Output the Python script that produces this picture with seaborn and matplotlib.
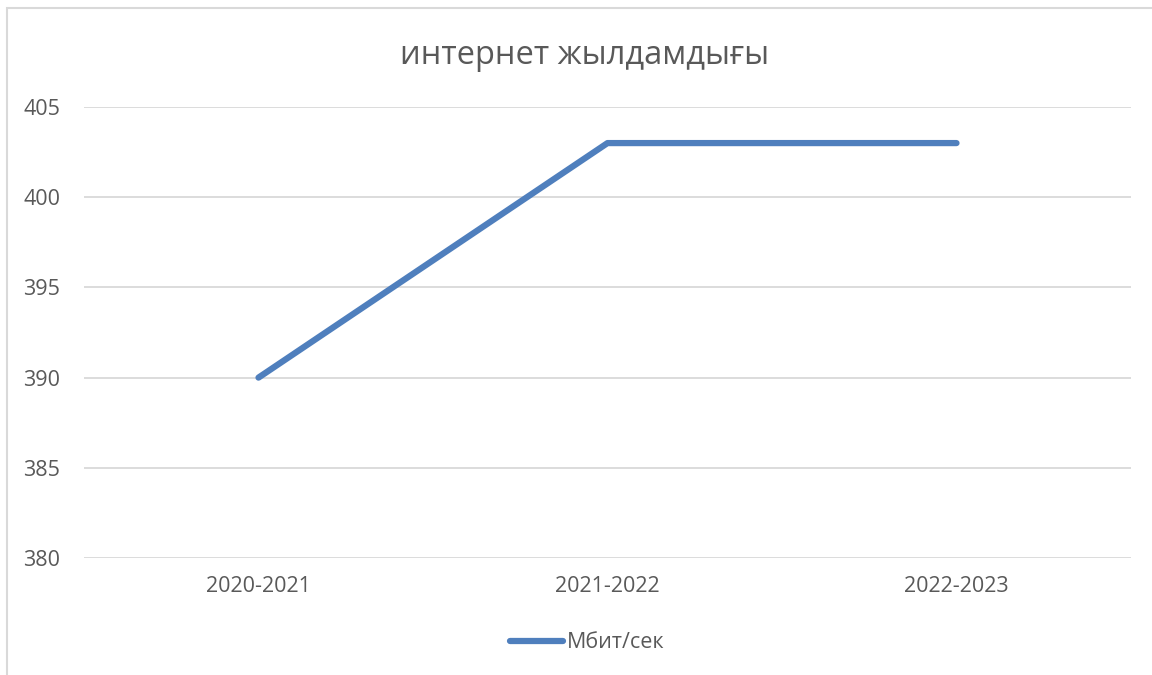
import matplotlib
matplotlib.use("Agg")
import matplotlib.pyplot as plt
import matplotlib.patches as mpatches
import pandas as pd
import seaborn as sns

years = ["2020-2021", "2021-2022", "2022-2023"]
speed = [390, 403, 403]
series_name = "Мбит/сек"
title = "интернет жылдамдығы"
yticks = [380, 385, 390, 395, 400, 405]

df = pd.DataFrame({"year": years, "speed": speed})

sns.set_theme(style="white")
plt.rcParams["font.family"] = ["Open Sans", "DejaVu Sans"]

grey = "#595959"
grid = "#d9d9d9"

fig = plt.figure(figsize=(11.52, 6.75), dpi=100)
ax = fig.add_axes([84 / 1152, 1 - 558 / 675, 1047 / 1152, 451 / 675])

sns.lineplot(data=df, x="year", y="speed", ax=ax, color="#4f7fbd",
             linewidth=4.5, sort=False, label=series_name,
             solid_capstyle="round")

ax.set_xlim(-0.5, 2.5)
ax.set_ylim(380, 405)
ax.set_yticks(yticks)
ax.yaxis.grid(True, color=grid, linewidth=1.3)
ax.xaxis.grid(False)
for s in ax.spines.values():
    s.set_visible(False)
ax.tick_params(axis="both", length=0, labelsize=15.5, colors=grey)
ax.tick_params(axis="y", pad=17)
ax.tick_params(axis="x", pad=13)
ax.set_xlabel("")
ax.set_ylabel("")

fig.text(585 / 1152, 1 - 55 / 675, title, ha="center", va="center",
         fontsize=23.5, color=grey)

ax.legend_.remove()
leg = fig.legend(loc="center", bbox_to_anchor=(587 / 1152, 1 - 643 / 675),
                 frameon=False, fontsize=15.5, handlelength=2.5,
                 handletextpad=0.15)
for t in leg.get_texts():
    t.set_color(grey)

# chart border (only top and left edges visible in the crop)
fig.add_artist(mpatches.Rectangle((7 / 1152, -0.1), 1.2, 1.1 - 8 / 675,
                                  transform=fig.transFigure, fill=False,
                                  edgecolor=grid, linewidth=1.5))

fig.savefig("out.png", dpi=100)
